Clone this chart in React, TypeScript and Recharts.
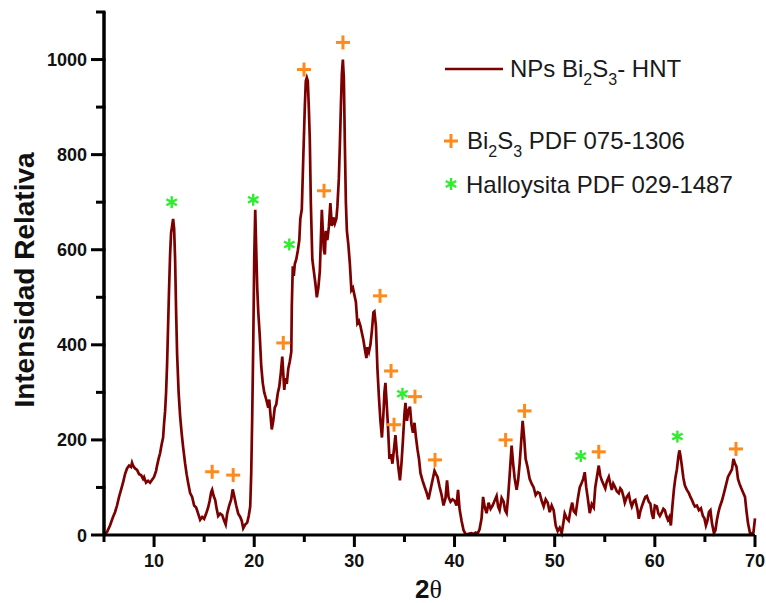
import { ComposedChart, Line, Scatter, XAxis, YAxis, Legend } from 'recharts'

// XRD pattern, NPs Bi2S3 - HNT
const xrdAngle = [
  5.0, 5.3, 5.6, 5.9, 6.1, 6.3, 6.5, 6.7, 6.9, 7.1, 7.3, 7.5, 7.7, 7.8, 7.9, 8.1, 8.3, 8.5, 8.7, 8.9,
  9.0, 9.2, 9.4, 9.6, 9.8, 10.0, 10.2, 10.3, 10.45, 10.6, 10.75, 10.9, 11.0, 11.1, 11.2, 11.3, 11.4, 11.5, 11.6, 11.7,
  11.8, 11.9, 12.0, 12.1, 12.2, 12.3, 12.45, 12.6, 12.75, 12.9, 13.1, 13.25, 13.4, 13.6, 13.8, 14.0, 14.2, 14.4, 14.6, 14.8,
  15.0, 15.2, 15.4, 15.55, 15.7, 15.8, 15.95, 16.1, 16.25, 16.4, 16.6, 16.8, 17.0, 17.15, 17.3, 17.5, 17.7, 17.85, 18.0, 18.2,
  18.4, 18.6, 18.75, 18.9, 19.1, 19.3, 19.45, 19.6, 19.7, 19.8, 19.9, 20.0, 20.1, 20.2, 20.3, 20.4, 20.55, 20.7, 20.85, 21.0,
  21.2, 21.4, 21.5, 21.6, 21.75, 21.9, 22.05, 22.2, 22.35, 22.5, 22.65, 22.8, 22.9, 23.0, 23.1, 23.25, 23.4, 23.55, 23.7, 23.75,
  23.85, 23.95, 24.05, 24.2, 24.35, 24.5, 24.6, 24.75, 24.9, 25.05, 25.15, 25.25, 25.35, 25.45, 25.55, 25.65, 25.8, 25.95, 26.1, 26.25,
  26.4, 26.55, 26.65, 26.75, 26.85, 26.95, 27.05, 27.15, 27.3, 27.45, 27.6, 27.75, 27.9, 28.05, 28.2, 28.3, 28.45, 28.55, 28.65, 28.75,
  28.85, 28.95, 29.05, 29.15, 29.25, 29.4, 29.55, 29.7, 29.85, 30.0, 30.15, 30.3, 30.45, 30.6, 30.75, 30.9, 31.05, 31.2, 31.3, 31.45,
  31.6, 31.75, 31.9, 32.0, 32.15, 32.3, 32.45, 32.6, 32.75, 32.9, 33.0, 33.1, 33.2, 33.35, 33.5, 33.65, 33.8, 33.95, 34.1, 34.25,
  34.4, 34.55, 34.7, 34.85, 35.0, 35.1, 35.25, 35.4, 35.55, 35.7, 35.85, 36.0, 36.15, 36.3, 36.45, 36.6, 36.8, 37.0, 37.2, 37.4,
  37.6, 37.8, 38.0, 38.15, 38.3, 38.5, 38.7, 38.9, 39.1, 39.25, 39.4, 39.6, 39.8, 40.0, 40.2, 40.35, 40.5, 40.7, 40.9, 41.1,
  41.3, 41.5, 41.7, 41.9, 42.1, 42.3, 42.5, 42.7, 42.85, 43.0, 43.2, 43.4, 43.6, 43.8, 44.0, 44.2, 44.35, 44.5, 44.7, 44.9,
  45.05, 45.2, 45.35, 45.5, 45.7, 45.85, 46.0, 46.2, 46.35, 46.5, 46.65, 46.8, 46.95, 47.1, 47.3, 47.5, 47.7, 47.9, 48.1, 48.3,
  48.5, 48.7, 48.9, 49.1, 49.3, 49.5, 49.7, 49.9, 50.1, 50.3, 50.5, 50.7, 50.9, 51.0, 51.2, 51.4, 51.6, 51.75, 51.9, 52.1,
  52.3, 52.5, 52.7, 52.85, 53.0, 53.15, 53.3, 53.5, 53.7, 53.9, 54.05, 54.2, 54.4, 54.55, 54.7, 54.9, 55.05, 55.2, 55.4, 55.55,
  55.7, 55.85, 56.0, 56.2, 56.4, 56.55, 56.7, 56.9, 57.0, 57.2, 57.4, 57.55, 57.7, 57.9, 58.05, 58.25, 58.4, 58.55, 58.7, 58.9,
  59.05, 59.2, 59.4, 59.55, 59.7, 59.85, 60.0, 60.2, 60.35, 60.5, 60.7, 60.85, 61.0, 61.15, 61.3, 61.45, 61.6, 61.75, 61.9, 62.05,
  62.2, 62.35, 62.45, 62.55, 62.7, 62.85, 63.0, 63.2, 63.4, 63.55, 63.7, 63.85, 64.0, 64.2, 64.4, 64.6, 64.8, 64.95, 65.1, 65.25,
  65.4, 65.55, 65.7, 65.9, 66.05, 66.2, 66.35, 66.5, 66.7, 66.9, 67.1, 67.3, 67.5, 67.7, 67.85, 68.0, 68.15, 68.3, 68.45, 68.6,
  68.8, 69.0, 69.15, 69.3, 69.5, 69.7, 69.85, 70.0,
]

const xrdIntensity = [
  2, 6, 20, 38, 48, 62, 80, 95, 110, 128, 140, 146, 143, 152, 146, 140, 137, 128, 126, 118,
  122, 110, 114, 110, 116, 122, 135, 146, 160, 172, 190, 205, 235, 260, 300, 360, 440, 520, 590, 636,
  650, 665, 645, 580, 470, 380, 300, 250, 215, 185, 150, 128, 110, 88, 80, 62, 58, 45, 32, 38,
  34, 45, 58, 72, 90, 95, 82, 74, 55, 40, 45, 42, 30, 22, 45, 62, 75, 96, 82, 62,
  45, 38, 30, 14, 22, 26, 40, 60, 130, 250, 400, 580, 684, 600, 520, 470, 420, 355, 320, 300,
  285, 268, 285, 258, 222, 240, 268, 275, 298, 312, 340, 375, 340, 305, 330, 318, 350, 365, 385, 480,
  565, 545, 570, 580, 598, 620, 665, 685, 795, 900, 955, 962, 955, 900, 830, 700, 580, 555, 530, 500,
  520, 555, 620, 684, 640, 600, 590, 640, 620, 648, 698, 650, 668, 655, 665, 690, 750, 820, 900, 970,
  1000, 960, 820, 700, 640, 610, 570, 515, 520, 505, 490, 445, 450, 440, 425, 410, 390, 372, 395, 385,
  400, 430, 468, 470, 440, 350, 290, 240, 205, 255, 300, 320, 285, 230, 160, 170, 150, 180, 210, 170,
  140, 115, 150, 200, 255, 278, 240, 262, 270, 232, 215, 236, 205, 180, 160, 130, 115, 102, 90, 75,
  95, 115, 135, 128, 122, 102, 85, 62, 78, 115, 80, 70, 75, 72, 62, 95, 55, 30, 10, 2,
  2, 3, 4, 2, 5, 3, 12, 35, 80, 60, 46, 68, 55, 62, 72, 82, 60, 52, 78, 70,
  52, 46, 80, 125, 188, 150, 120, 95, 115, 150, 195, 240, 205, 160, 142, 118, 108, 100, 84, 90,
  88, 72, 60, 75, 68, 48, 62, 52, 20, 8, 15, 4, 30, 45, 35, 30, 55, 68, 50, 45,
  75, 100, 110, 118, 132, 100, 78, 46, 65, 58, 100, 120, 146, 125, 115, 105, 98, 112, 122, 108,
  95, 108, 102, 92, 88, 98, 94, 78, 68, 80, 86, 70, 60, 72, 74, 55, 34, 50, 60, 72,
  80, 82, 70, 66, 45, 34, 62, 60, 45, 40, 48, 55, 52, 40, 32, 38, 20, 60, 95, 120,
  138, 165, 178, 168, 145, 120, 104, 95, 88, 80, 74, 66, 60, 62, 52, 56, 40, 35, 20, 30,
  48, 52, 25, 4, 10, 32, 48, 60, 72, 88, 105, 122, 130, 138, 160, 150, 144, 118, 108, 100,
  90, 80, 50, 25, 4, 3, 6, 35,
]

// reference peak markers
const bi2s3Angle = [15.8, 17.9, 22.9, 24.97, 26.97, 28.86, 32.56, 33.66, 33.96, 36.05, 38.05, 45.1, 46.99, 54.4, 68.1]
const bi2s3Mark = [133, 126, 404, 979, 724, 1036, 503, 345, 232, 291, 158, 200, 261, 175, 181]
const halloAngle = [11.76, 19.9, 23.5, 34.8, 52.6, 62.25]
const halloMark = [700, 705, 611, 297, 166, 207]

const xTicks = [5, 10, 15, 20, 25, 30, 35, 40, 45, 50, 55, 60, 65, 70]
const yTicks = [0, 100, 200, 300, 400, 500, 600, 700, 800, 900, 1000, 1100]

const RED = '#7d0000'
const ORANGE = '#ff8a1c'
const GREEN = '#2fec2f'
const FONT = '"Liberation Sans", Arial, sans-serif'

const curveData = xrdAngle.map((x, i) => ({ x, y: xrdIntensity[i] }))
const bi2s3Data = bi2s3Angle.map((x, i) => ({ x, y: bi2s3Mark[i] }))
const halloData = halloAngle.map((x, i) => ({ x, y: halloMark[i] }))

function PlusMark({ cx, cy }: { cx: number; cy: number }) {
  return (
    <g>
      <rect x={cx - 7} y={cy - 1.5} width={14} height={3} fill={ORANGE} />
      <rect x={cx - 1.5} y={cy - 7} width={3} height={14} fill={ORANGE} />
    </g>
  )
}

function StarMark({ cx, cy }: { cx: number; cy: number }) {
  const r = 6
  const arms = [90, 30, -30]
  return (
    <g>
      {arms.map((a) => {
        const dx = r * Math.cos((a * Math.PI) / 180)
        const dy = r * Math.sin((a * Math.PI) / 180)
        return (
          <line key={a} x1={cx - dx} y1={cy - dy} x2={cx + dx} y2={cy + dy}
            stroke={GREEN} strokeWidth={2.4} />
        )
      })}
    </g>
  )
}

function XTick({ x, y, payload }: any) {
  const major = payload.value % 10 === 0
  return (
    <g>
      <rect x={x - 1.5} y={y} width={3} height={major ? 12 : 7} fill="#000" />
      {major && (
        <text x={x} y={y + 32} textAnchor="middle" fontSize={18} fontWeight="bold"
          fontFamily={FONT} fill="#111">
          {payload.value}
        </text>
      )}
    </g>
  )
}

function YTick({ x, y, payload }: any) {
  const major = payload.value % 200 === 0
  const len = major ? 13 : 8
  return (
    <g>
      <rect x={x - len} y={y - 1.5} width={len + 1.5} height={3} fill="#000" />
      {major && (
        <text x={x - 17} y={y + 6.5} textAnchor="end" fontSize={18} fontWeight="bold"
          fontFamily={FONT} fill="#111">
          {payload.value}
        </text>
      )}
    </g>
  )
}

function renderLegend() {
  return (
    <svg width={766} height={210} style={{ display: 'block' }}>
      <line x1={445} x2={503} y1={69} y2={69} stroke={RED} strokeWidth={2.5} />
      <text x={510} y={77} fontSize={24} fontFamily={FONT} fill="#1a1a1a">
        NPs Bi<tspan fontSize={16} dy={8}>2</tspan>
        <tspan dy={-8}>S</tspan><tspan fontSize={16} dy={8}>3</tspan>
        <tspan dy={-8}>- HNT</tspan>
      </text>
      <PlusMark cx={451} cy={141} />
      <text x={467} y={149} fontSize={24} fontFamily={FONT} fill="#1a1a1a">
        Bi<tspan fontSize={16} dy={8}>2</tspan>
        <tspan dy={-8}>S</tspan><tspan fontSize={16} dy={8}>3</tspan>
        <tspan dy={-8}> PDF 075-1306</tspan>
      </text>
      <StarMark cx={451} cy={184} />
      <text x={466} y={193} fontSize={24} fontFamily={FONT} fill="#1a1a1a">
        Halloysita PDF 029-1487
      </text>
    </svg>
  )
}

export default function App() {
  return (
    <div style={{ position: 'absolute', left: 0, top: 0, background: '#fff' }}>
      <ComposedChart width={766} height={603} margin={{ top: 12, right: 11, bottom: 38, left: 44 }}>
        <XAxis
          dataKey="x"
          type="number"
          domain={[5, 70]}
          ticks={xTicks}
          height={30}
          tickSize={0}
          tickMargin={0}
          tick={<XTick />}
          stroke="#000"
          strokeWidth={3}
          axisLine={{ stroke: '#000', strokeWidth: 3 }}
          interval={0}
          label={() => (
            <text x={415} y={598} fontSize={26} fill="#111">
              <tspan fontWeight="bold" fontFamily={FONT}>2</tspan>
              <tspan fontFamily='"Liberation Serif", serif'>θ</tspan>
            </text>
          )}
        />
        <YAxis
          dataKey="y"
          type="number"
          domain={[0, 1100]}
          ticks={yTicks}
          width={60}
          tickSize={0}
          tickMargin={0}
          tick={<YTick />}
          stroke="#000"
          strokeWidth={3.5}
          axisLine={{ stroke: '#000', strokeWidth: 3.5 }}
          interval={0}
          label={() => (
            <text x={34} y={280} transform="rotate(-90 34 280)" textAnchor="middle"
              fontSize={28} fontWeight="bold" fontFamily={FONT} fill="#111">
              Intensidad Relativa
            </text>
          )}
        />
        <Line
          data={curveData}
          dataKey="y"
          type="linear"
          stroke={RED}
          strokeWidth={2.7}
          dot={false}
          activeDot={false}
          isAnimationActive={false}
        />
        <Scatter
          data={bi2s3Data}
          dataKey="y"
          shape={(p: any) => <PlusMark cx={p.cx} cy={p.cy} />}
          isAnimationActive={false}
        />
        <Scatter
          data={halloData}
          dataKey="y"
          shape={(p: any) => <StarMark cx={p.cx} cy={p.cy} />}
          isAnimationActive={false}
        />
        <Legend
          content={renderLegend}
          layout="horizontal"
          verticalAlign="middle"
          align="center"
          wrapperStyle={{ left: 0, top: 0, width: 766, height: 210 }}
        />
      </ComposedChart>
    </div>
  )
}
